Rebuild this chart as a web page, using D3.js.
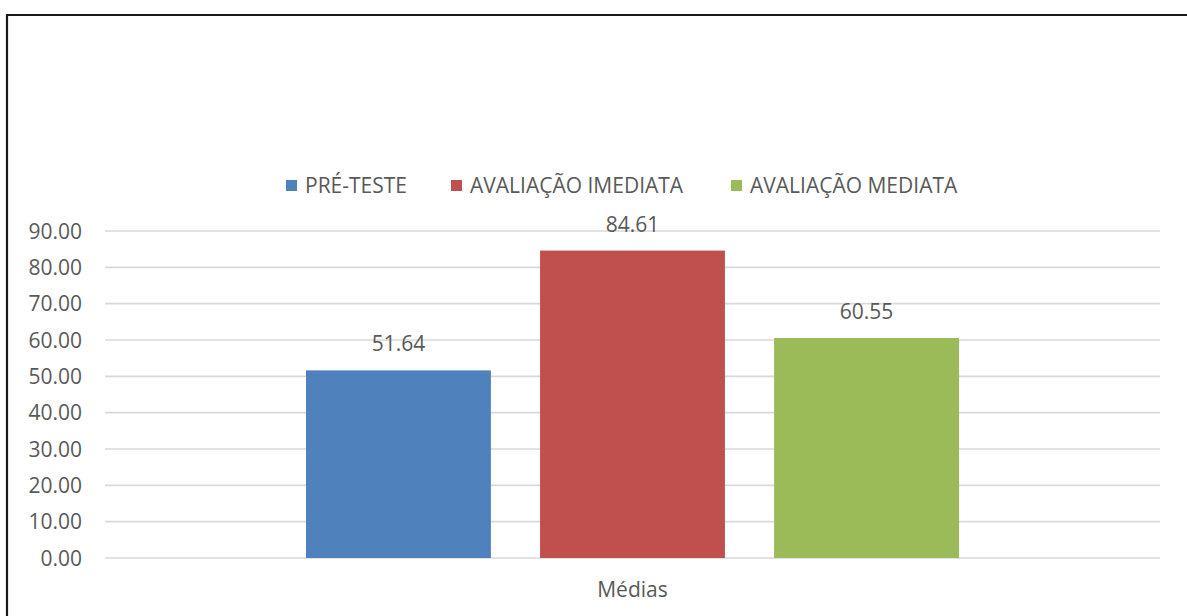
<!DOCTYPE html>
<html>
<head>
<meta charset="utf-8">
<script src="https://cdn.jsdelivr.net/npm/d3@7"></script>
<style>
  body { margin: 0; background: #fff; }
  svg text { font-family: "Open Sans", sans-serif; fill: #595959; }
</style>
</head>
<body>
<svg id="chart" width="1187" height="616"></svg>
<script>
"use strict";

const categories = ["Médias"];
const seriesNames = ["PRÉ-TESTE", "AVALIAÇÃO IMEDIATA", "AVALIAÇÃO MEDIATA"];
const seriesValues = [51.64, 84.61, 60.55];
const colors = ["#4F81BD", "#C0504D", "#9BBB59"];
const yTicks = [0, 10, 20, 30, 40, 50, 60, 70, 80, 90];

const fontSize = "21px";
const svg = d3.select("#chart");

// frame (only top and left edges show)
svg.append("path")
    .attr("d", "M7,616 V15 H1187")
    .attr("fill", "none")
    .attr("stroke", "#1a1a1a")
    .attr("stroke-width", 2.2);

const x = d3.scaleBand().domain(categories).range([105, 1160]);
const y = d3.scaleLinear().domain([0, 90]).range([558, 231]);

// inner band for the three bars
const x1 = d3.scaleBand().domain(seriesNames)
    .range([306, 959]).paddingInner(0.21);

// grid lines
svg.append("g").selectAll("line")
    .data(yTicks)
    .enter()
    .append("line")
    .attr("x1", 105).attr("x2", 1160)
    .attr("y1", d => y(d)).attr("y2", d => y(d))
    .attr("stroke", "#D9D9D9")
    .attr("stroke-width", 1.6);

// y axis labels
svg.append("g").selectAll("text")
    .data(yTicks)
    .enter()
    .append("text")
    .attr("x", 82)
    .attr("y", d => y(d))
    .attr("dy", "0.36em")
    .attr("text-anchor", "end")
    .style("font-size", fontSize)
    .text(d => d.toFixed(2));

// bars
svg.append("g").selectAll("rect")
    .data(seriesValues)
    .enter()
    .append("rect")
    .attr("x", (d, i) => x1(seriesNames[i]))
    .attr("width", x1.bandwidth())
    .attr("y", d => y(d))
    .attr("height", d => y(0) - y(d))
    .attr("fill", (d, i) => colors[i]);

// value labels
svg.append("g").selectAll("text")
    .data(seriesValues)
    .enter()
    .append("text")
    .attr("x", (d, i) => x1(seriesNames[i]) + x1.bandwidth() / 2)
    .attr("y", d => y(d) - 19)
    .attr("text-anchor", "middle")
    .style("font-size", fontSize)
    .text(d => d.toFixed(2));

// category label
svg.append("text")
    .attr("x", x(categories[0]) + x.bandwidth() / 2)
    .attr("y", 597)
    .attr("text-anchor", "middle")
    .style("font-size", fontSize)
    .text(categories[0]);

// legend
const legendX = [286, 451, 731];
const legend = svg.append("g").selectAll("g")
    .data(seriesNames)
    .enter()
    .append("g")
    .attr("transform", (d, i) => `translate(${legendX[i]},180)`);

legend.append("rect")
    .attr("width", 11).attr("height", 11)
    .attr("fill", (d, i) => colors[i]);

legend.append("text")
    .attr("x", 19)
    .attr("y", 13)
    .style("font-size", fontSize)
    .text(d => d);
</script>
</body>
</html>
